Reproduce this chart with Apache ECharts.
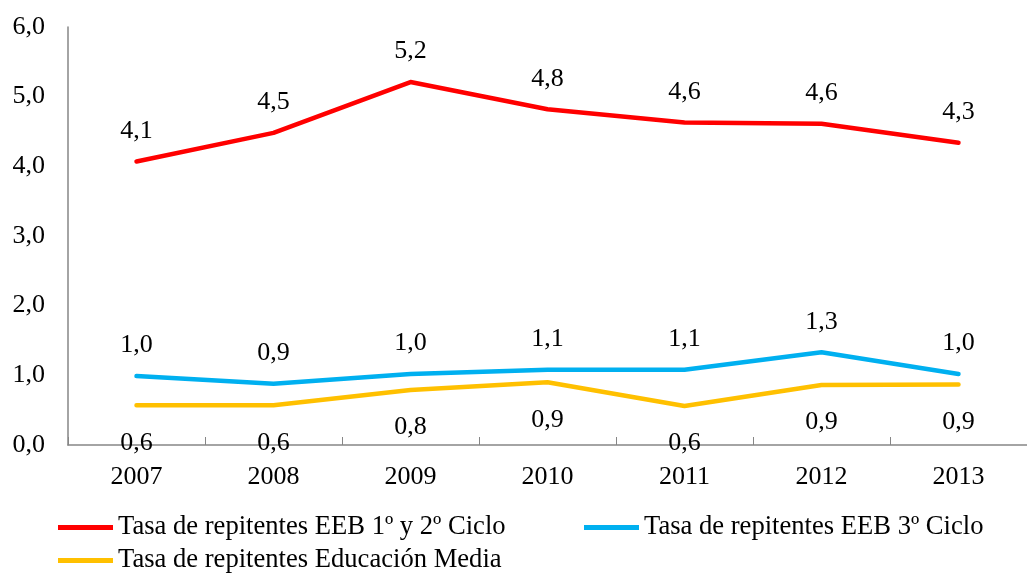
<!DOCTYPE html>
<html>
<head>
<meta charset="utf-8">
<script src="https://cdn.jsdelivr.net/npm/echarts@6/dist/echarts.min.js"></script>
<style>
  html, body { margin: 0; padding: 0; background: #fff; overflow: hidden; }
  #chart { width: 1027px; height: 574px; }
</style>
</head>
<body>
<div id="chart"></div>
<script>
var years = ['2007', '2008', '2009', '2010', '2011', '2012', '2013'];
var ciclo12 = [4.07, 4.48, 5.21, 4.82, 4.63, 4.61, 4.34];
var ciclo3 = [0.99, 0.88, 1.02, 1.08, 1.08, 1.33, 1.02];
var media = [0.57, 0.57, 0.79, 0.90, 0.56, 0.86, 0.87];
var names = [
  'Tasa de repitentes EEB 1º y 2º Ciclo',
  'Tasa de repitentes EEB 3º Ciclo',
  'Tasa de repitentes Educación Media'
];

var font = "'Liberation Serif', 'Times New Roman', serif";
function fmt(v) { return v.toFixed(1).replace('.', ','); }

function mkSeries(name, data, color, pos, dist) {
  return {
    name: name,
    type: 'line',
    data: data,
    symbol: 'circle',
    symbolSize: 1,
    showSymbol: true,
    lineStyle: { color: color, width: 4.5, cap: 'round', join: 'round' },
    itemStyle: { color: color },
    label: {
      show: true,
      position: pos,
      distance: dist,
      color: '#000',
      fontFamily: font,
      fontSize: 26,
      formatter: function (p) { return fmt(p.value); }
    }
  };
}

function leg(name, left, top) {
  return {
    data: [name],
    left: left,
    top: top,
    padding: 0,
    itemWidth: 55,
    itemHeight: 12,
    itemGap: 0,
    icon: 'path://M0,3.5 L55,3.5 L55,8.5 L0,8.5 Z',
    textStyle: { fontFamily: font, fontSize: 26.6, color: '#000' }
  };
}

var chart = echarts.init(document.getElementById('chart'));
chart.setOption({
  backgroundColor: '#fff',
  animation: false,
  textStyle: { fontFamily: font },
  grid: { left: 68, top: 27, right: -15, bottom: 129, containLabel: false },
  legend: [
    leg(names[0], 58, 514),
    leg(names[1], 584, 514),
    leg(names[2], 58, 547)
  ],
  xAxis: {
    type: 'category',
    data: years,
    boundaryGap: true,
    axisLine: { lineStyle: { color: '#868686', width: 1.5 } },
    axisTick: { show: true, inside: true, length: 8, lineStyle: { color: '#868686' } },
    axisLabel: { color: '#000', fontFamily: font, fontSize: 26, margin: 19 }
  },
  yAxis: {
    type: 'value',
    min: 0,
    max: 6,
    interval: 1,
    splitLine: { show: false },
    axisLine: { show: true, lineStyle: { color: '#868686', width: 1.5 } },
    axisTick: { show: false },
    axisLabel: {
      color: '#000', fontFamily: font, fontSize: 26, margin: 23,
      formatter: function (v) { return fmt(v); }
    }
  },
  series: [
    mkSeries(names[0], ciclo12, '#FF0000', 'top', 17),
    mkSeries(names[1], ciclo3, '#00B0F0', 'top', 17),
    mkSeries(names[2], media, '#FFC000', 'bottom', 24)
  ]
});
</script>
</body>
</html>
